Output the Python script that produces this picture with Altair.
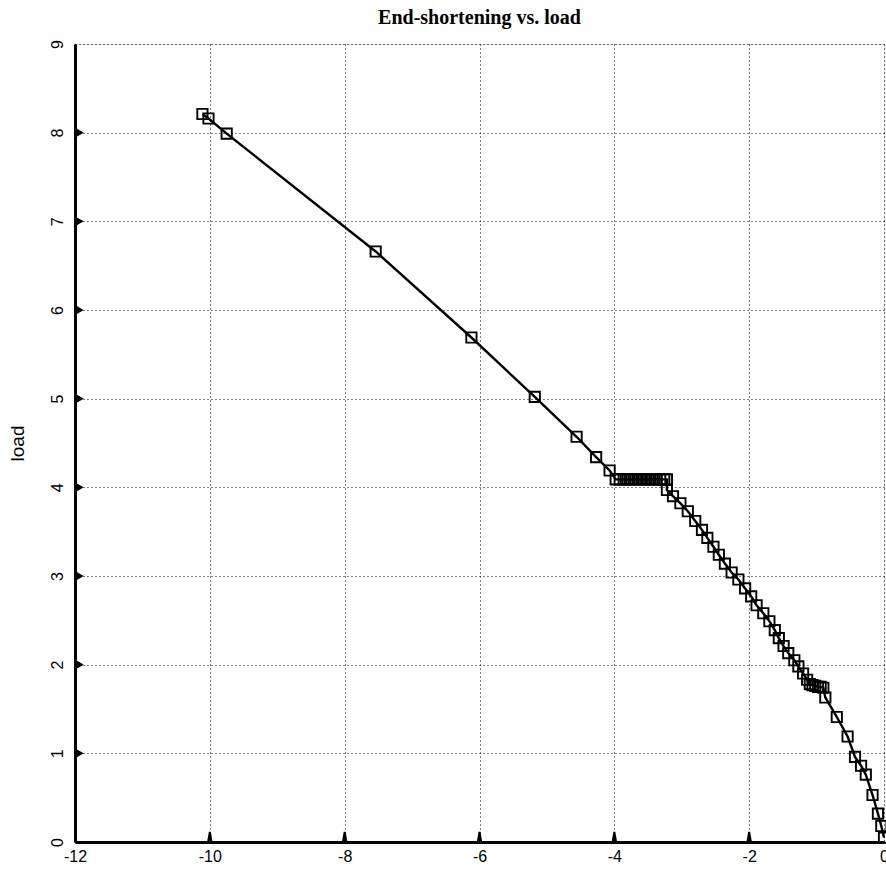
import altair as alt
import pandas as pd

# End-shortening (x) and load (y)
shortening = [-10.11, -10.02, -9.75, -7.54, -6.12, -5.18, -4.56, -4.27, -4.07,
              -3.98, -3.92, -3.86, -3.80, -3.74, -3.68, -3.62, -3.56, -3.50,
              -3.44, -3.38, -3.32, -3.26, -3.22, -3.22,
              -3.13, -3.02, -2.91, -2.80, -2.70, -2.62, -2.53, -2.45, -2.36,
              -2.26, -2.16, -2.06, -1.97, -1.89, -1.79, -1.70, -1.62, -1.56,
              -1.49, -1.42, -1.33, -1.27, -1.20, -1.14,
              -1.10, -1.06, -1.02, -0.98, -0.94, -0.90,
              -0.87, -0.70, -0.54, -0.43, -0.34, -0.27, -0.17, -0.09, -0.04, 0.0]
load = [8.21, 8.16, 7.99, 6.66, 5.69, 5.02, 4.57, 4.34, 4.19,
        4.09, 4.09, 4.09, 4.09, 4.09, 4.09, 4.09, 4.09, 4.09,
        4.09, 4.09, 4.09, 4.09, 4.09, 3.97,
        3.90, 3.82, 3.73, 3.62, 3.52, 3.43, 3.33, 3.24, 3.14,
        3.04, 2.96, 2.86, 2.77, 2.67, 2.58, 2.49, 2.39, 2.30,
        2.21, 2.13, 2.05, 1.98, 1.90, 1.83,
        1.78, 1.77, 1.76, 1.75, 1.75, 1.74,
        1.63, 1.41, 1.19, 0.96, 0.86, 0.76, 0.53, 0.32, 0.18, 0.05]

x_ticks = [-12, -10, -8, -6, -4, -2, 0]
y_ticks = [0, 1, 2, 3, 4, 5, 6, 7, 8, 9]
x_inner = [-10, -8, -6, -4, -2]
y_inner = [1, 2, 3, 4, 5, 6, 7, 8]
x_base = [-12, -12, -12, -12, -12, -12, -12, -12]
y_base = [0, 0, 0, 0, 0]

df = pd.DataFrame({"x": shortening, "y": load, "order": list(range(len(load)))})
dx = pd.DataFrame({"tx": x_inner, "ty": y_base})
dy = pd.DataFrame({"tx": x_base, "ty": y_inner})

xscale = alt.Scale(domain=[-12, 0], nice=False, zero=False)
yscale = alt.Scale(domain=[0, 9], nice=False, zero=False)

xaxis = alt.Axis(values=x_ticks, title=None, grid=True, gridColor="black",
                 gridDash=[1, 3], gridWidth=1, gridOpacity=1,
                 domainColor="black", domainWidth=3, ticks=False,
                 labelExpr="'' + datum.value",
                 labelFont="Liberation Sans", labelFontSize=16, labelColor="black",
                 labelPadding=6, labelFlush=False)
yaxis = alt.Axis(values=y_ticks, title="load", grid=True, gridColor="black",
                 gridDash=[1, 3], gridWidth=1, gridOpacity=1,
                 domainColor="black", domainWidth=3, ticks=False,
                 labelExpr="'' + datum.value",
                 labelFont="Liberation Sans", labelFontSize=16, labelColor="black",
                 labelAngle=270, labelPadding=18, labelBaseline="middle",
                 labelAlign="center", labelFlush=False,
                 titleFont="Liberation Sans", titleFontSize=19, titleFontWeight="normal",
                 titleColor="black", titlePadding=22)

line = alt.Chart(df).mark_line(color="black", strokeWidth=2.4).encode(
    x=alt.X("x:Q", scale=xscale, axis=xaxis),
    y=alt.Y("y:Q", scale=yscale, axis=yaxis),
    order="order:Q",
)
pts = alt.Chart(df).mark_point(shape="square", filled=False, color="black",
                               size=105, strokeWidth=1.9, opacity=1).encode(
    x=alt.X("x:Q", scale=xscale),
    y=alt.Y("y:Q", scale=yscale),
)

xt = alt.Chart(dx).mark_point(
    shape="M -0.35 0 L 0 -2 L 0.35 0 Z", filled=True, fill="black", stroke="black",
    size=100, opacity=1, clip=False).encode(
    x=alt.X("tx:Q", scale=xscale), y=alt.Y("ty:Q", scale=yscale))
yt = alt.Chart(dy).mark_point(
    shape="triangle-right", filled=True, fill="black", stroke="black",
    size=40, opacity=1, clip=False, xOffset=4).encode(
    x=alt.X("tx:Q", scale=xscale), y=alt.Y("ty:Q", scale=yscale))

chart = alt.layer(line, pts, xt, yt).properties(
    width=809, height=798,
    title=alt.TitleParams("End-shortening vs. load", font="Liberation Serif",
                          fontSize=20, fontWeight="bold", color="black",
                          anchor="middle", offset=12),
    autosize=alt.AutoSizeParams(type="none"),
    padding={"left": 75, "top": 44, "right": 2, "bottom": 30},
).configure_view(stroke="black", strokeWidth=2.5).configure(background="white")

chart.save("out.html", embed_options={"renderer": "svg", "actions": False})
